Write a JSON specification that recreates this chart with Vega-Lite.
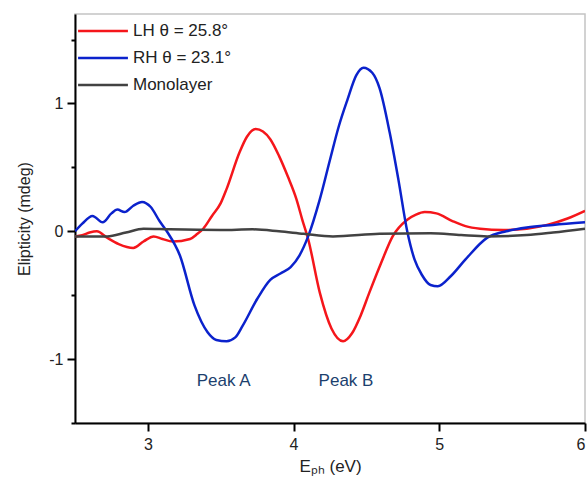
{
  "$schema": "https://vega.github.io/schema/vega-lite/v6.json",
  "autosize": "none",
  "width": 510,
  "height": 409,
  "padding": {"left": 75, "top": 14, "right": 2, "bottom": 67},
  "background": "white",
  "config": {
    "view": {"stroke": "#c4c4c4", "strokeWidth": 1.5},
    "font": "Liberation Sans",
    "axis": {"labelFont": "Liberation Sans", "titleFont": "Liberation Sans", "labelFontSize": 16, "titleFontSize": 16, "labelColor": "#222", "titleColor": "#222", "titleFontWeight": "normal", "domainColor": "#000", "tickColor": "#000", "grid": false}
  },
  "datasets": {
    "curves": [
      {"series": "LH θ = 25.8°", "x": 2.50, "y": -0.04},
      {"series": "LH θ = 25.8°", "x": 2.55, "y": -0.03},
      {"series": "LH θ = 25.8°", "x": 2.60, "y": -0.01},
      {"series": "LH θ = 25.8°", "x": 2.65, "y": 0.00},
      {"series": "LH θ = 25.8°", "x": 2.72, "y": -0.05},
      {"series": "LH θ = 25.8°", "x": 2.80, "y": -0.10},
      {"series": "LH θ = 25.8°", "x": 2.90, "y": -0.13},
      {"series": "LH θ = 25.8°", "x": 2.97, "y": -0.08},
      {"series": "LH θ = 25.8°", "x": 3.04, "y": -0.04},
      {"series": "LH θ = 25.8°", "x": 3.10, "y": -0.06},
      {"series": "LH θ = 25.8°", "x": 3.17, "y": -0.08},
      {"series": "LH θ = 25.8°", "x": 3.29, "y": -0.06},
      {"series": "LH θ = 25.8°", "x": 3.34, "y": -0.02},
      {"series": "LH θ = 25.8°", "x": 3.38, "y": 0.02},
      {"series": "LH θ = 25.8°", "x": 3.44, "y": 0.12},
      {"series": "LH θ = 25.8°", "x": 3.50, "y": 0.22},
      {"series": "LH θ = 25.8°", "x": 3.54, "y": 0.33},
      {"series": "LH θ = 25.8°", "x": 3.63, "y": 0.62},
      {"series": "LH θ = 25.8°", "x": 3.68, "y": 0.74},
      {"series": "LH θ = 25.8°", "x": 3.74, "y": 0.80},
      {"series": "LH θ = 25.8°", "x": 3.79, "y": 0.78},
      {"series": "LH θ = 25.8°", "x": 3.84, "y": 0.72},
      {"series": "LH θ = 25.8°", "x": 3.90, "y": 0.59},
      {"series": "LH θ = 25.8°", "x": 3.96, "y": 0.43},
      {"series": "LH θ = 25.8°", "x": 4.02, "y": 0.25},
      {"series": "LH θ = 25.8°", "x": 4.06, "y": 0.09},
      {"series": "LH θ = 25.8°", "x": 4.10, "y": -0.06},
      {"series": "LH θ = 25.8°", "x": 4.18, "y": -0.48},
      {"series": "LH θ = 25.8°", "x": 4.26, "y": -0.76},
      {"series": "LH θ = 25.8°", "x": 4.34, "y": -0.86},
      {"series": "LH θ = 25.8°", "x": 4.40, "y": -0.80},
      {"series": "LH θ = 25.8°", "x": 4.46, "y": -0.66},
      {"series": "LH θ = 25.8°", "x": 4.52, "y": -0.48},
      {"series": "LH θ = 25.8°", "x": 4.60, "y": -0.25},
      {"series": "LH θ = 25.8°", "x": 4.68, "y": -0.04},
      {"series": "LH θ = 25.8°", "x": 4.78, "y": 0.09},
      {"series": "LH θ = 25.8°", "x": 4.84, "y": 0.13},
      {"series": "LH θ = 25.8°", "x": 4.90, "y": 0.15},
      {"series": "LH θ = 25.8°", "x": 4.98, "y": 0.14},
      {"series": "LH θ = 25.8°", "x": 5.09, "y": 0.08},
      {"series": "LH θ = 25.8°", "x": 5.18, "y": 0.04},
      {"series": "LH θ = 25.8°", "x": 5.28, "y": 0.02},
      {"series": "LH θ = 25.8°", "x": 5.44, "y": 0.01},
      {"series": "LH θ = 25.8°", "x": 5.60, "y": 0.02},
      {"series": "LH θ = 25.8°", "x": 5.74, "y": 0.05},
      {"series": "LH θ = 25.8°", "x": 5.88, "y": 0.10},
      {"series": "LH θ = 25.8°", "x": 6.00, "y": 0.16},

      {"series": "RH θ = 23.1°", "x": 2.50, "y": 0.00},
      {"series": "RH θ = 23.1°", "x": 2.55, "y": 0.06},
      {"series": "RH θ = 23.1°", "x": 2.62, "y": 0.12},
      {"series": "RH θ = 23.1°", "x": 2.69, "y": 0.07},
      {"series": "RH θ = 23.1°", "x": 2.75, "y": 0.14},
      {"series": "RH θ = 23.1°", "x": 2.79, "y": 0.17},
      {"series": "RH θ = 23.1°", "x": 2.84, "y": 0.15},
      {"series": "RH θ = 23.1°", "x": 2.90, "y": 0.20},
      {"series": "RH θ = 23.1°", "x": 2.96, "y": 0.23},
      {"series": "RH θ = 23.1°", "x": 3.02, "y": 0.19},
      {"series": "RH θ = 23.1°", "x": 3.08, "y": 0.08},
      {"series": "RH θ = 23.1°", "x": 3.13, "y": 0.00},
      {"series": "RH θ = 23.1°", "x": 3.22, "y": -0.19},
      {"series": "RH θ = 23.1°", "x": 3.32, "y": -0.58},
      {"series": "RH θ = 23.1°", "x": 3.41, "y": -0.79},
      {"series": "RH θ = 23.1°", "x": 3.47, "y": -0.85},
      {"series": "RH θ = 23.1°", "x": 3.54, "y": -0.86},
      {"series": "RH θ = 23.1°", "x": 3.60, "y": -0.83},
      {"series": "RH θ = 23.1°", "x": 3.65, "y": -0.74},
      {"series": "RH θ = 23.1°", "x": 3.75, "y": -0.53},
      {"series": "RH θ = 23.1°", "x": 3.84, "y": -0.38},
      {"series": "RH θ = 23.1°", "x": 3.91, "y": -0.33},
      {"series": "RH θ = 23.1°", "x": 3.98, "y": -0.28},
      {"series": "RH θ = 23.1°", "x": 4.04, "y": -0.19},
      {"series": "RH θ = 23.1°", "x": 4.10, "y": -0.04},
      {"series": "RH θ = 23.1°", "x": 4.18, "y": 0.25},
      {"series": "RH θ = 23.1°", "x": 4.25, "y": 0.56},
      {"series": "RH θ = 23.1°", "x": 4.31, "y": 0.82},
      {"series": "RH θ = 23.1°", "x": 4.37, "y": 1.03},
      {"series": "RH θ = 23.1°", "x": 4.43, "y": 1.22},
      {"series": "RH θ = 23.1°", "x": 4.48, "y": 1.28},
      {"series": "RH θ = 23.1°", "x": 4.54, "y": 1.24},
      {"series": "RH θ = 23.1°", "x": 4.59, "y": 1.12},
      {"series": "RH θ = 23.1°", "x": 4.66, "y": 0.77},
      {"series": "RH θ = 23.1°", "x": 4.72, "y": 0.40},
      {"series": "RH θ = 23.1°", "x": 4.78, "y": 0.00},
      {"series": "RH θ = 23.1°", "x": 4.83, "y": -0.22},
      {"series": "RH θ = 23.1°", "x": 4.88, "y": -0.34},
      {"series": "RH θ = 23.1°", "x": 4.94, "y": -0.42},
      {"series": "RH θ = 23.1°", "x": 4.99, "y": -0.43},
      {"series": "RH θ = 23.1°", "x": 5.08, "y": -0.35},
      {"series": "RH θ = 23.1°", "x": 5.18, "y": -0.22},
      {"series": "RH θ = 23.1°", "x": 5.33, "y": -0.05},
      {"series": "RH θ = 23.1°", "x": 5.46, "y": 0.00},
      {"series": "RH θ = 23.1°", "x": 5.60, "y": 0.03},
      {"series": "RH θ = 23.1°", "x": 5.78, "y": 0.05},
      {"series": "RH θ = 23.1°", "x": 6.00, "y": 0.07},

      {"series": "Monolayer", "x": 2.50, "y": -0.04},
      {"series": "Monolayer", "x": 2.72, "y": -0.04},
      {"series": "Monolayer", "x": 2.85, "y": -0.01},
      {"series": "Monolayer", "x": 2.97, "y": 0.02},
      {"series": "Monolayer", "x": 3.15, "y": 0.015},
      {"series": "Monolayer", "x": 3.50, "y": 0.01},
      {"series": "Monolayer", "x": 3.72, "y": 0.015},
      {"series": "Monolayer", "x": 3.90, "y": 0.00},
      {"series": "Monolayer", "x": 4.07, "y": -0.02},
      {"series": "Monolayer", "x": 4.27, "y": -0.04},
      {"series": "Monolayer", "x": 4.59, "y": -0.02},
      {"series": "Monolayer", "x": 4.94, "y": -0.015},
      {"series": "Monolayer", "x": 5.15, "y": -0.03},
      {"series": "Monolayer", "x": 5.33, "y": -0.04},
      {"series": "Monolayer", "x": 5.60, "y": -0.03},
      {"series": "Monolayer", "x": 5.78, "y": -0.01},
      {"series": "Monolayer", "x": 6.00, "y": 0.02}
    ],
    "labels": [
      {"label": "Peak A", "x": 3.52, "y": -1.17},
      {"label": "Peak B", "x": 4.36, "y": -1.17}
    ]
  },
  "layer": [
    {
      "data": {"name": "curves"},
      "mark": {"type": "line", "interpolate": "monotone", "strokeWidth": 2.5, "clip": true},
      "encoding": {
        "x": {"field": "x", "type": "quantitative", "scale": {"domain": [2.5, 6], "nice": false, "zero": false},
          "axis": {"values": [3, 4, 5, 6], "format": "d", "title": "Eₚₕ (eV)", "titleFontSize": 17, "domainWidth": 2, "tickWidth": 2, "tickSize": 8, "labelPadding": 5, "titlePadding": 6}},
        "y": {"field": "y", "type": "quantitative", "scale": {"domain": [-1.5, 1.7], "nice": false, "zero": false},
          "axis": {"values": [-1, 0, 1], "format": "d", "labelExpr": "replace(datum.label, '−', '-')", "title": "Elipticity (mdeg)", "domainWidth": 2, "tickWidth": 2, "tickSize": 8, "labelPadding": 4, "titlePadding": 16}},
        "color": {"field": "series", "type": "nominal", "sort": ["LH θ = 25.8°", "RH θ = 23.1°", "Monolayer"],
          "scale": {"domain": ["LH θ = 25.8°", "RH θ = 23.1°", "Monolayer"], "range": ["#f5161b", "#0b22cc", "#424242"]},
          "legend": {"orient": "none", "legendX": 9, "legendY": -2, "title": null, "symbolType": "M-1.41,0H1.41", "symbolSize": 1250, "symbolStrokeWidth": 2.5, "labelFont": "Liberation Sans", "labelFontSize": 17, "labelColor": "#222", "rowPadding": 0, "labelOffset": 11, "padding": 0}}
      }
    },
    {
      "data": {"name": "labels"},
      "mark": {"type": "text", "font": "Liberation Sans Narrow, Liberation Sans", "fontSize": 17, "color": "#1c3f6e"},
      "encoding": {
        "x": {"field": "x", "type": "quantitative"},
        "y": {"field": "y", "type": "quantitative",
          "axis": {"orient": "left", "values": [-1.5, -0.5, 0.5, 1.5], "labels": false, "domain": false, "title": null, "tickWidth": 2, "tickSize": 4}},
        "text": {"field": "label"}
      }
    }
  ],
  "resolve": {"axis": {"y": "independent"}}
}
